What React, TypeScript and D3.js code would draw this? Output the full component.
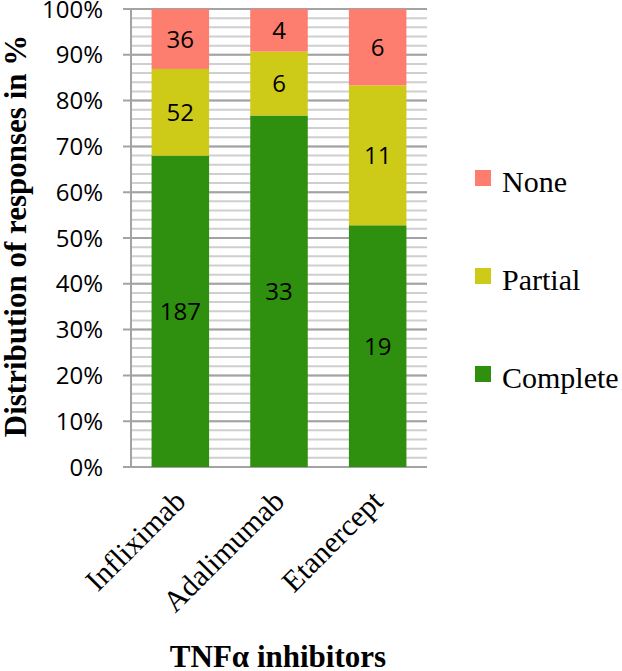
import React from "react";
import * as d3 from "d3";

const categories = ["Infliximab", "Adalimumab", "Etanercept"];
const seriesNames = ["Complete", "Partial", "None"];
const complete = [187, 33, 19];
const partial = [52, 6, 11];
const none = [36, 4, 6];
const yTicks = [0, 0.1, 0.2, 0.3, 0.4, 0.5, 0.6, 0.7, 0.8, 0.9, 1.0];
const colors = ["#2F8F0E", "#CDCB17", "#FD7E6E"];

const W = 622;
const H = 671;
const sansFont = `"Open Sans", "Liberation Sans", sans-serif`;
const serifFont = `"Liberation Serif", "Times New Roman", serif`;

export default function App() {
  const x = d3.scaleBand<string>().domain(categories).range([131, 427]).paddingInner(0.417).paddingOuter(0.2085);
  const y = d3.scaleLinear().domain([0, 1]).range([467, 9]);

  const rows = categories.map((c, i) => ({ cat: c, Complete: complete[i], Partial: partial[i], None: none[i] }));
  const stack = d3.stack<any>().keys(seriesNames).offset(d3.stackOffsetExpand);
  const layers = stack(rows);

  const minor = d3.range(0, 101, 2).map((v) => v / 100);
  const legendY = [175, 273, 371];
  const legendOrder = ["None", "Partial", "Complete"];
  const serifStyle = { fontFamily: serifFont };
  const sansStyle = { fontFamily: sansFont };

  return (
    <svg width={W} height={H} style={{ position: "absolute", left: 0, top: 0, background: "#fff" }}>
      {minor.map((v, i) => (
        <line key={"m" + i} x1={131} x2={427} y1={y(v)} y2={y(v)} stroke="#cfcfcf" strokeWidth={2} />
      ))}
      {yTicks.map((v, i) => (
        <line key={"g" + i} x1={123} x2={427} y1={y(v)} y2={y(v)} stroke="#a3a3a3" strokeWidth={2} />
      ))}
      <line x1={131} x2={131} y1={y(1)} y2={y(0)} stroke="#a3a3a3" strokeWidth={2} />

      {layers.map((layer, li) =>
        layer.map((d: any, i: number) => (
          <rect
            key={layer.key + i}
            x={x(categories[i])}
            width={x.bandwidth()}
            y={y(d[1])}
            height={y(d[0]) - y(d[1])}
            fill={colors[li]}
          />
        ))
      )}
      {layers.map((layer, li) =>
        layer.map((d: any, i: number) => (
          <text
            key={"t" + layer.key + i}
            x={(x(categories[i]) as number) + x.bandwidth() / 2}
            y={(y(d[0]) + y(d[1])) / 2}
            dy="0.36em"
            textAnchor="middle"
            style={sansStyle}
            fontSize={24}
            fill="#000"
          >
            {d.data[layer.key]}
          </text>
        ))
      )}

      {yTicks.map((v, i) => (
        <text key={"yl" + i} x={103} y={y(v)} dy="0.36em" textAnchor="end" style={sansStyle} fontSize={24} fill="#000">
          {d3.format(".0%")(v)}
        </text>
      ))}

      {categories.map((c) => {
        const cx = (x(c) as number) + x.bandwidth() / 2 + 7;
        const cy = 467 + 36;
        return (
          <text key={c} x={cx} y={cy} textAnchor="end" transform={`rotate(-45 ${cx} ${cy})`} style={serifStyle} fontSize={30} fill="#000">
            {c}
          </text>
        );
      })}

      <text x={278} y={667} textAnchor="middle" style={serifStyle} fontWeight="bold" fontSize={31} fill="#000">
        TNFα inhibitors
      </text>
      <text transform="translate(26,236) rotate(-90)" textAnchor="middle" style={serifStyle} fontWeight="bold" fontSize={31} fill="#000">
        Distribution of responses in %
      </text>

      {legendOrder.map((name, i) => {
        const ci = seriesNames.indexOf(name);
        return (
          <g key={name}>
            <rect x={475} y={legendY[i] - 5} width={16} height={16} fill={colors[ci]} />
            <text x={502} y={legendY[i] + 17} style={serifStyle} fontSize={30} fill="#000">
              {name}
            </text>
          </g>
        );
      })}
    </svg>
  );
}
